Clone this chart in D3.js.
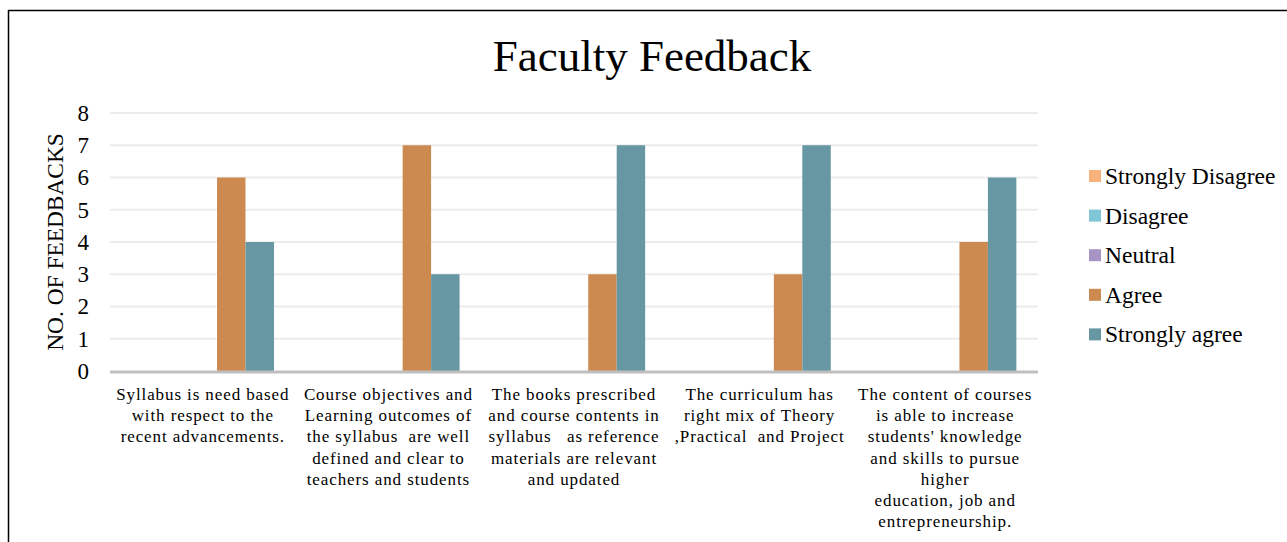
<!doctype html>
<html>
<head>
<meta charset="utf-8" />
<title>Faculty Feedback</title>
<script src="https://cdn.jsdelivr.net/npm/d3@7"></script>
<style>
  body { margin: 0; background: #fff; }
  svg { display: block; font-family: "Liberation Serif", "Times New Roman", serif; }
</style>
</head>
<body>
<div id="chart"></div>
<script>
// categories (label lines as wrapped in the original)
var categories = [
  ["Syllabus is need based", "with respect to the", "recent advancements."],
  ["Course objectives and", "Learning outcomes of", "the syllabus  are well", "defined and clear to", "teachers and students"],
  ["The books prescribed", "and course contents in", "syllabus   as reference", "materials are relevant", "and updated"],
  ["The curriculum has", "right mix of Theory", ",Practical  and Project"],
  ["The content of courses", "is able to increase", "students' knowledge", "and skills to pursue", "higher", "education, job and", "entrepreneurship."]
];
var seriesNames = ["Strongly Disagree", "Disagree", "Neutral", "Agree", "Strongly agree"];
var seriesColors = ["#f9b27e", "#7fc6d6", "#a894c4", "#cd8a50", "#6797a2"];
var stronglyDisagree = [0, 0, 0, 0, 0];
var disagree = [0, 0, 0, 0, 0];
var neutral = [0, 0, 0, 0, 0];
var agree = [6, 7, 3, 3, 4];
var stronglyAgree = [4, 3, 7, 7, 6];
var yTicks = [0, 1, 2, 3, 4, 5, 6, 7, 8];

var values = [stronglyDisagree, disagree, neutral, agree, stronglyAgree];

var W = 1287, H = 542;
var svg = d3.select('#chart').append('svg')
    .attr('width', W)
    .attr('height', H);

// frame (top and left edges visible)
svg.append('line').attr('x1', 8).attr('x2', W).attr('y1', 10.5).attr('y2', 10.5)
    .style('stroke', '#000').style('stroke-width', 1.5);
svg.append('line').attr('x1', 8.5).attr('x2', 8.5).attr('y1', 10).attr('y2', H)
    .style('stroke', '#000').style('stroke-width', 1.5);

var plotL = 110, plotR = 1038, plotT = 113, plotB = 371;

var catIdx = d3.range(categories.length);
var x0 = d3.scaleBand().domain(catIdx).range([plotL, plotR]).padding(0);
var x1 = d3.scaleBand().domain(d3.range(seriesNames.length))
    .range([0, x0.bandwidth()]).paddingInner(0).paddingOuter(0.76);
var y = d3.scaleLinear().domain([0, 8]).range([plotB, plotT]);

// title
svg.append('text')
    .attr('x', 652).attr('y', 71)
    .attr('text-anchor', 'middle')
    .style('font-size', '45px')
    .text('Faculty Feedback');

// gridlines
svg.append('g').selectAll('line')
    .data(yTicks.filter(function (d) { return d > 0; }))
    .enter().append('line')
    .attr('x1', plotL).attr('x2', plotR)
    .attr('y1', function (d) { return y(d); })
    .attr('y2', function (d) { return y(d); })
    .style('stroke', '#ececec').style('stroke-width', 2);

// y axis tick labels
var yAxis = d3.axisLeft(y).tickValues(yTicks).tickSize(0).tickPadding(21);
var gy = svg.append('g').attr('transform', 'translate(' + plotL + ',0)').call(yAxis);
gy.select('.domain').remove();
gy.selectAll('text')
    .style('font-family', '"Liberation Serif", serif')
    .style('font-size', '23px')
    .style('fill', '#000');

// y axis title
svg.append('text')
    .attr('transform', 'translate(63,' + (plotB + plotT) / 2 + ') rotate(-90)')
    .attr('text-anchor', 'middle')
    .style('font-size', '23.4px')
    .text('NO. OF FEEDBACKS');

// bars
var groups = svg.append('g').selectAll('g')
    .data(values)
    .enter().append('g')
    .style('fill', function (d, i) { return seriesColors[i]; });
groups.each(function (vals, si) {
    d3.select(this).selectAll('rect')
        .data(vals)
        .enter().append('rect')
        .attr('x', function (d, ci) { return x0(ci) + x1(si); })
        .attr('width', x1.bandwidth())
        .attr('y', function (d) { return y(d); })
        .attr('height', function (d) { return y(0) - y(d); });
});

// x axis line
svg.append('line')
    .attr('x1', plotL).attr('x2', plotR)
    .attr('y1', y(0) + 1).attr('y2', y(0) + 1)
    .style('stroke', '#bfbfbf').style('stroke-width', 3);

// category labels
var lbl = svg.append('g').selectAll('text')
    .data(categories)
    .enter().append('text')
    .attr('x', function (d, i) { return x0(i) + x0.bandwidth() / 2; })
    .attr('y', 400)
    .attr('text-anchor', 'middle')
    .style('font-size', '17px')
    .style('letter-spacing', '0.9px');
lbl.selectAll('tspan')
    .data(function (d) { return d; })
    .enter().append('tspan')
    .attr('x', function () { return d3.select(this.parentNode).attr('x'); })
    .attr('dy', function (d, i) { return i === 0 ? 0 : 21.2; })
    .style('white-space', 'pre')
    .text(function (d) { return d; });

// legend
var leg = svg.append('g').selectAll('g')
    .data(seriesNames)
    .enter().append('g')
    .attr('transform', function (d, i) { return 'translate(1089,' + (176 + i * 39.6) + ')'; });
leg.append('rect')
    .attr('x', 0).attr('y', -6).attr('width', 12).attr('height', 12)
    .style('fill', function (d, i) { return seriesColors[i]; });
leg.append('text')
    .attr('x', 16).attr('y', 8)
    .style('font-size', '23.5px')
    .text(function (d) { return d; });
</script>
</body>
</html>
